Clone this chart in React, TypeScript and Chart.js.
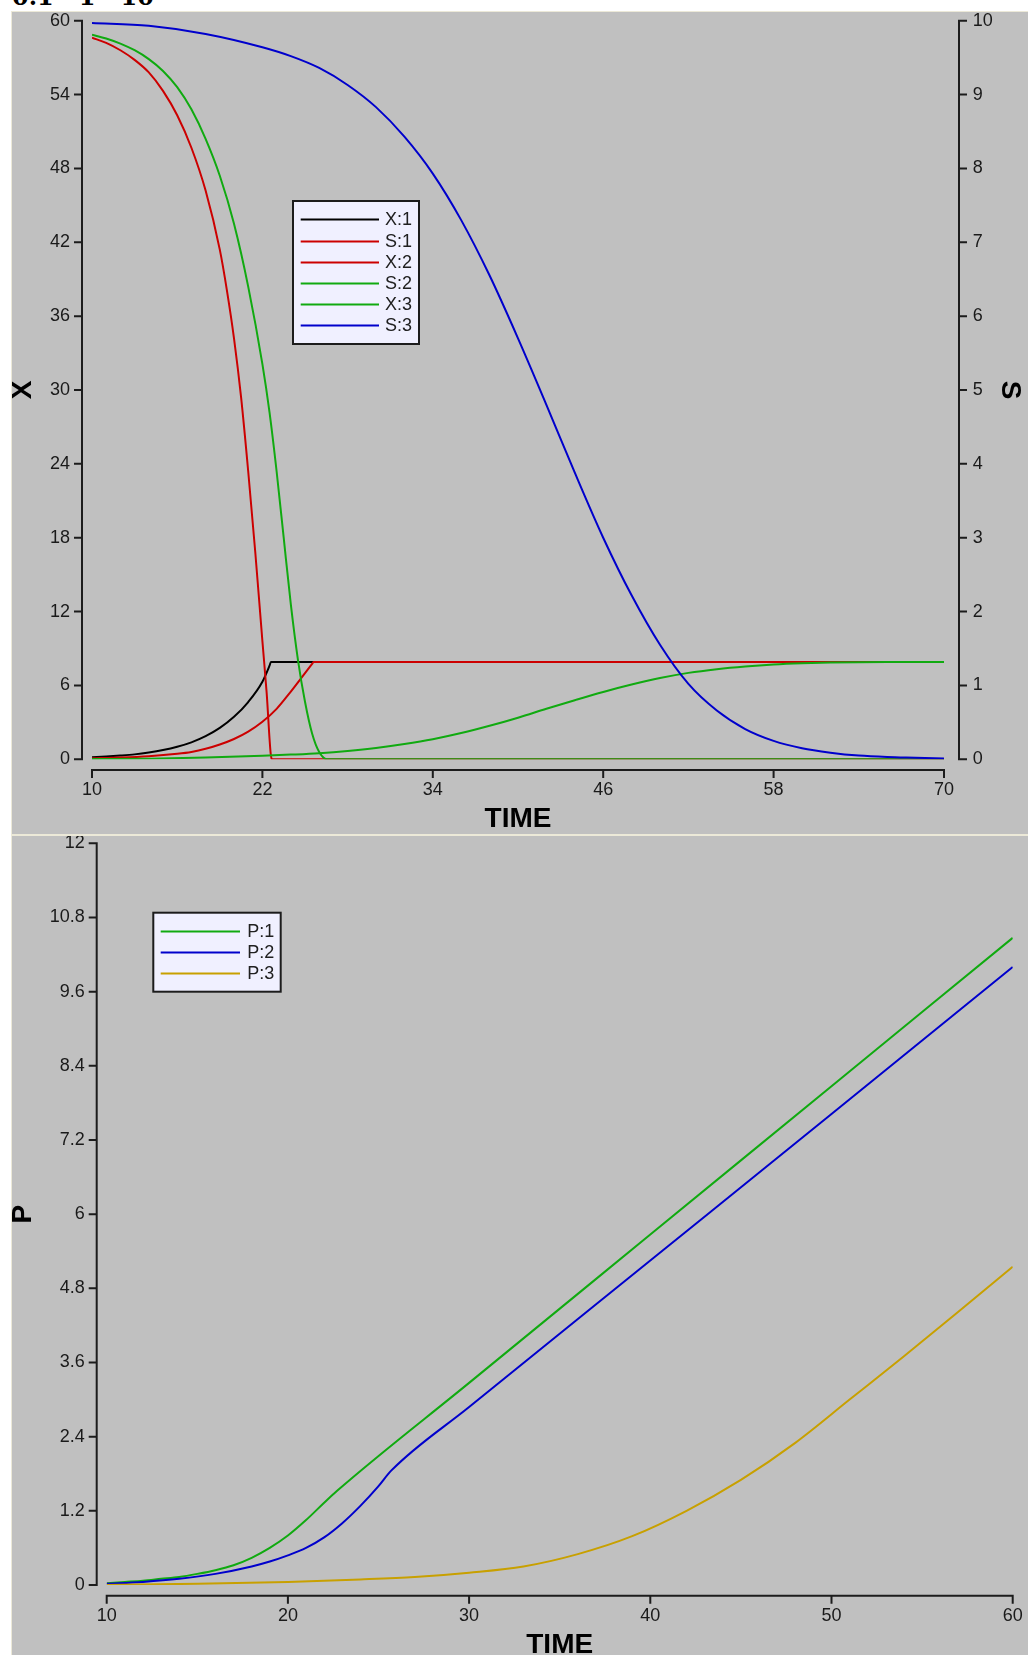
import React, { useEffect, useRef } from "react";
import { Chart, registerables } from "chart.js";

Chart.register(...registerables);

// ---------- Upper panel: biomass X (left axis) and substrate S (right axis) ----------
const timeTicksTop = [10, 22, 34, 46, 58, 70];
const xAxisTicks = [0, 6, 12, 18, 24, 30, 36, 42, 48, 54, 60];
const sAxisTicks = [0, 1, 2, 3, 4, 5, 6, 7, 8, 9, 10];

const x1Time = [10, 11, 12, 13, 14, 15, 16, 17, 18, 19, 20, 21, 22, 22.5, 22.6, 70];
const x1Values = [0.16, 0.22, 0.3, 0.4, 0.55, 0.75, 1.02, 1.38, 1.88, 2.55, 3.45, 4.65, 6.3, 7.6, 7.9, 7.9];

const s1Time = [10, 11, 12, 13, 14, 15, 16, 17, 18, 19, 19.5, 20, 20.5, 21, 21.5, 22, 22.3, 22.6, 22.7, 70];
const s1Values = [9.77, 9.7, 9.6, 9.47, 9.3, 9.05, 8.72, 8.28, 7.7, 6.9, 6.35, 5.7, 4.9, 3.9, 2.8, 1.6, 0.9, 0.05, 0, 0];

const x2Time = [10, 12, 14, 16, 17, 18, 19, 20, 21, 22, 23, 24, 25, 25.5, 25.6, 70];
const x2Values = [0.08, 0.14, 0.25, 0.45, 0.6, 0.85, 1.2, 1.65, 2.25, 3.05, 4.1, 5.5, 7.0, 7.75, 7.9, 7.9];

const s2Time = [10, 11, 12, 13, 14, 15, 16, 17, 18, 19, 20, 21, 22, 22.5, 23, 23.5, 24, 24.5, 25, 25.5, 26, 26.6, 70];
const s2Values = [9.81, 9.76, 9.69, 9.6, 9.48, 9.32, 9.1, 8.8, 8.4, 7.9, 7.25, 6.4, 5.35, 4.7, 3.9, 3.0, 2.1, 1.35, 0.78, 0.35, 0.1, 0, 0];

const x3Time = [10, 14, 18, 22, 24, 26, 28, 30, 32, 34, 36, 38, 40, 42, 44, 46, 48, 50, 52, 54, 56, 58, 60, 62, 66, 70];
const x3Values = [0.02, 0.05, 0.14, 0.28, 0.38, 0.5, 0.68, 0.92, 1.24, 1.63, 2.13, 2.72, 3.38, 4.1, 4.8, 5.47, 6.07, 6.6, 7.02, 7.32, 7.54, 7.7, 7.8, 7.86, 7.9, 7.9];

const s3Time = [10, 14, 18, 22, 24, 26, 28, 30, 32, 34, 36, 38, 40, 42, 44, 46, 48, 50, 52, 54, 56, 58, 60, 62, 64, 66, 68, 70];
const s3Values = [9.97, 9.93, 9.82, 9.64, 9.52, 9.36, 9.13, 8.83, 8.43, 7.93, 7.3, 6.55, 5.7, 4.8, 3.88, 3.0, 2.22, 1.55, 1.02, 0.66, 0.41, 0.25, 0.15, 0.09, 0.05, 0.03, 0.02, 0.01];

// ---------- Lower panel: product P ----------
const timeTicksBottom = [10, 20, 30, 40, 50, 60];
const pAxisTicks = [0, 1.2, 2.4, 3.6, 4.8, 6, 7.2, 8.4, 9.6, 10.8, 12];

const p1Time = [10, 11, 12, 13, 14, 15, 16, 17, 18, 19, 20, 21, 22, 22.7, 30, 40, 50, 60];
const p1Values = [0.03, 0.05, 0.07, 0.1, 0.13, 0.18, 0.24, 0.32, 0.44, 0.6, 0.8, 1.05, 1.33, 1.52, 3.27, 5.67, 8.07, 10.47];

const p2Time = [10, 12, 14, 16, 18, 19, 20, 21, 22, 23, 24, 25, 25.7, 30, 40, 50, 60];
const p2Values = [0.02, 0.05, 0.1, 0.18, 0.3, 0.38, 0.48, 0.6, 0.77, 1.0, 1.28, 1.6, 1.85, 2.88, 5.25, 7.62, 10.0];

const p3Time = [10, 15, 20, 24, 27, 30, 33, 36, 39, 42, 45, 48, 51, 54, 57, 60];
const p3Values = [0.0, 0.02, 0.05, 0.09, 0.13, 0.2, 0.3, 0.5, 0.79, 1.2, 1.7, 2.3, 3.0, 3.7, 4.42, 5.15];

const runLabels = ["0.1", "1", "10"];

const BLACK = "#000000";
const RED = "#CC0000";
const GREEN = "#10AA10";
const BLUE = "#0000CC";
const GOLD = "#C8A000";

const TICK_FONT = { family: "'Liberation Sans Narrow', 'Liberation Sans', Arial, sans-serif", size: 18, lineHeight: 1 };
const TITLE_FONT = { family: "'Liberation Sans', Arial, sans-serif", size: 28, weight: "bold" as const, lineHeight: 1 };

const pts = (t: number[], v: number[]) => t.map((x, i) => ({ x, y: v[i] }));

// Axis lines drawn a few pixels away from the plot area, with outward tick marks
const detachedAxes = {
  id: "detachedAxes",
  afterDraw(chart: any, _args: any, opts: any) {
    const { ctx, chartArea } = chart;
    ctx.save();
    ctx.strokeStyle = "#1c1c1c";
    ctx.lineWidth = 2;
    Object.values(chart.scales).forEach((scale: any) => {
      const vals: number[] = scale.ticks.map((t: any) => t.value);
      const first = scale.getPixelForValue(vals[0]);
      const last = scale.getPixelForValue(vals[vals.length - 1]);
      ctx.beginPath();
      if (scale.axis === "x") {
        const y = chartArea.bottom + opts.xGap;
        ctx.moveTo(first - 1, y);
        ctx.lineTo(last + 1, y);
        vals.forEach((v) => {
          const p = scale.getPixelForValue(v);
          ctx.moveTo(p, y);
          ctx.lineTo(p, y + opts.tickLen);
        });
      } else if (scale.position === "left") {
        const x = chartArea.left - opts.leftGap;
        ctx.moveTo(x, first + 1);
        ctx.lineTo(x, last - 1);
        vals.forEach((v) => {
          const p = scale.getPixelForValue(v);
          ctx.moveTo(x, p);
          ctx.lineTo(x - opts.tickLen, p);
        });
      } else {
        const x = chartArea.right + opts.rightGap;
        ctx.moveTo(x, first + 1);
        ctx.lineTo(x, last - 1);
        vals.forEach((v) => {
          const p = scale.getPixelForValue(v);
          ctx.moveTo(x, p);
          ctx.lineTo(x + opts.tickLen, p);
        });
      }
      ctx.stroke();
    });
    ctx.restore();
  },
};

// Boxed legend placed inside the plot
const boxLegend = {
  id: "boxLegend",
  afterDraw(chart: any, _args: any, opts: any) {
    const { ctx } = chart;
    const { left, top, width, height, firstRow, rowStep, lineFrom, lineTo, textX } = opts;
    ctx.save();
    ctx.fillStyle = "#F0F0FF";
    ctx.fillRect(left, top, width, height);
    ctx.strokeStyle = "#1c1c1c";
    ctx.lineWidth = 2;
    ctx.strokeRect(left, top, width, height);
    ctx.font = `18px ${TICK_FONT.family}`;
    ctx.textBaseline = "middle";
    chart.data.datasets.forEach((d: any, i: number) => {
      const y = Math.round(top + firstRow + i * rowStep) + 0.5;
      ctx.strokeStyle = d.borderColor;
      ctx.lineWidth = 1.8;
      ctx.beginPath();
      ctx.moveTo(left + lineFrom, y);
      ctx.lineTo(left + lineTo, y);
      ctx.stroke();
      ctx.fillStyle = "#202020";
      ctx.fillText(d.label, left + textX, y + 1);
    });
    ctx.restore();
  },
};

const fixedTicks = (list: number[]) => (scale: any) => {
  scale.ticks = list.map((value) => ({ value }));
};

// Force the scale box size and drop the label overflow padding so the plot area lands exactly
const fixSize = (w: number | null, h: number | null) => (scale: any) => {
  if (w !== null) scale.width = w;
  if (h !== null) scale.height = h;
  scale.paddingTop = 0;
  scale.paddingBottom = 0;
  scale.paddingLeft = 0;
  scale.paddingRight = 0;
};

const line = (label: string, color: string, data: any[], yAxisID: string, order: number) => ({
  label,
  data,
  yAxisID,
  order,
  borderColor: color,
  backgroundColor: color,
  borderWidth: 2,
  pointRadius: 0,
  fill: false,
  cubicInterpolationMode: "monotone" as const,
});

const tickStyle = (padding: number) => ({
  font: TICK_FONT,
  color: "#1a1a1a",
  padding,
  maxRotation: 0,
  autoSkip: false,
  callback: (v: number) => String(v),
});

function topConfig(): any {
  return {
    type: "line",
    data: {
      datasets: [
        line("X:1", BLACK, pts(x1Time, x1Values), "yX", 6),
        line("S:1", RED, pts(s1Time, s1Values), "yS", 5),
        line("X:2", RED, pts(x2Time, x2Values), "yX", 4),
        line("S:2", GREEN, pts(s2Time, s2Values), "yS", 3),
        line("X:3", GREEN, pts(x3Time, x3Values), "yX", 2),
        line("S:3", BLUE, pts(s3Time, s3Values), "yS", 1),
      ],
    },
    options: {
      responsive: false,
      animation: false,
      devicePixelRatio: 1,
      layout: { padding: { top: 8.7, left: 0, right: 0, bottom: 0 } },
      plugins: {
        legend: { display: false },
        tooltip: { enabled: false },
        detachedAxes: { xGap: 10.7, leftGap: 10, rightGap: 15, tickLen: 8 },
        boxLegend: {
          left: 281, top: 189, width: 126, height: 143,
          firstRow: 18.3, rowStep: 21.2, lineFrom: 7.7, lineTo: 86, textX: 92,
        },
      },
      scales: {
        x: {
          type: "linear",
          position: "bottom",
          min: 10,
          max: 70,
          afterBuildTicks: fixedTicks(timeTicksTop),
          afterFit: fixSize(null, 74.7),
          grid: { display: false, drawTicks: false },
          border: { display: false },
          ticks: tickStyle(21.4),
          title: { display: true, text: "TIME", font: TITLE_FONT, color: "#000", padding: { top: 0, bottom: 0.5 } },
        },
        yX: {
          type: "linear",
          position: "left",
          min: 0,
          max: 60,
          afterBuildTicks: fixedTicks(xAxisTicks),
          afterFit: fixSize(80, null),
          grid: { display: false, drawTicks: false },
          border: { display: false },
          ticks: tickStyle(22),
          title: { display: true, text: "X", font: TITLE_FONT, color: "#000", padding: { top: -3, bottom: 0 } },
        },
        yS: {
          type: "linear",
          position: "right",
          min: 0,
          max: 10,
          afterBuildTicks: fixedTicks(sAxisTicks),
          afterFit: fixSize(84, null),
          grid: { display: false, drawTicks: false },
          border: { display: false },
          ticks: tickStyle(28.7),
          title: { display: true, text: "S", font: TITLE_FONT, color: "#000", padding: { top: 4, bottom: 0 } },
        },
      },
    },
    plugins: [detachedAxes, boxLegend],
  };
}

function bottomConfig(): any {
  return {
    type: "line",
    data: {
      datasets: [
        line("P:1", GREEN, pts(p1Time, p1Values), "yP", 3),
        line("P:2", BLUE, pts(p2Time, p2Values), "yP", 2),
        line("P:3", GOLD, pts(p3Time, p3Values), "yP", 1),
      ],
    },
    options: {
      responsive: false,
      animation: false,
      devicePixelRatio: 1,
      layout: { padding: { top: 7.3, left: 0, right: 15.3, bottom: 0 } },
      plugins: {
        legend: { display: false },
        tooltip: { enabled: false },
        detachedAxes: { xGap: 10.7, leftGap: 10, rightGap: 15, tickLen: 8 },
        boxLegend: {
          left: 141.3, top: 76.7, width: 127.4, height: 79,
          firstRow: 18, rowStep: 21, lineFrom: 7.4, lineTo: 86.7, textX: 94,
        },
      },
      scales: {
        x: {
          type: "linear",
          position: "bottom",
          min: 10,
          max: 60,
          afterBuildTicks: fixedTicks(timeTicksBottom),
          afterFit: fixSize(null, 70),
          grid: { display: false, drawTicks: false },
          border: { display: false },
          ticks: tickStyle(22.3),
          title: { display: true, text: "TIME", font: TITLE_FONT, color: "#000", padding: { top: 0, bottom: -4 } },
        },
        yP: {
          type: "linear",
          position: "left",
          min: 0,
          max: 12,
          afterBuildTicks: fixedTicks(pAxisTicks),
          afterFit: fixSize(94.7, null),
          grid: { display: false, drawTicks: false },
          border: { display: false },
          ticks: tickStyle(22),
          title: { display: true, text: "P", font: TITLE_FONT, color: "#000", padding: { top: -3, bottom: 0 } },
        },
      },
    },
    plugins: [detachedAxes, boxLegend],
  };
}

function ChartPanel({ make, left, top, width, height }: { make: () => any; left: number; top: number; width: number; height: number }) {
  const ref = useRef<HTMLCanvasElement>(null);
  useEffect(() => {
    const chart = new Chart(ref.current as HTMLCanvasElement, make());
    return () => chart.destroy();
  }, [make]);
  return (
    <canvas
      ref={ref}
      width={width}
      height={height}
      style={{ position: "absolute", left, top, width, height, background: "#C0C0C0", display: "block" }}
    />
  );
}

export default function App() {
  return (
    <div style={{ position: "absolute", left: 0, top: 0, width: 1028, height: 1655, overflow: "hidden", background: "#FFFFFF" }}>
      <div
        style={{
          position: "absolute",
          left: 12,
          top: -18,
          font: "bold 24px 'DejaVu Serif', serif",
          color: "#000",
          whiteSpace: "pre",
        }}
      >
        {runLabels.join("   ")}
      </div>
      <div style={{ position: "absolute", left: 11, top: 11, width: 1017, height: 1644, background: "#ECE9D8" }} />
      <ChartPanel make={topConfig} left={12} top={12} width={1016} height={822} />
      <ChartPanel make={bottomConfig} left={12} top={836} width={1016} height={819} />
    </div>
  );
}
